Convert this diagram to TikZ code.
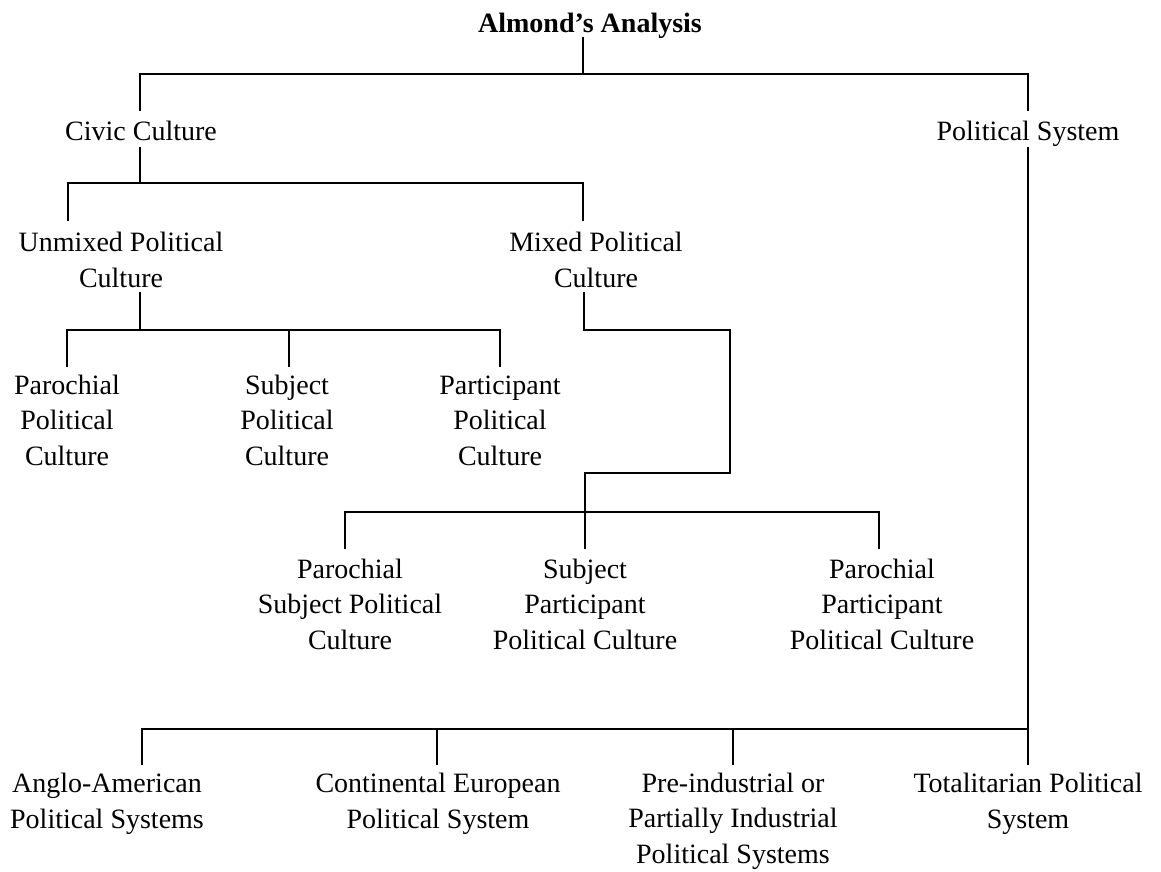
\documentclass[tikz,border=0pt]{standalone}
\usepackage{fontspec}
\setmainfont{Liberation Serif}
\begin{document}
\begin{tikzpicture}[x=1pt,y=-1pt,
  lbl/.style={inner sep=0pt, align=center, anchor=base,
              font=\fontsize{28}{35.5}\selectfont},
  link/.style={line width=1.6pt, line cap=rect, line join=miter}]
\useasboundingbox[fill=white] (0,0) rectangle (1161,871);

% ---- labels (base anchor = baseline of the last line) ----
\node[lbl, font=\fontsize{28}{35.5}\selectfont\bfseries] (title) at (590,32) {Almond’s Analysis};
\node[lbl] (civic)   at (141,140)  {Civic Culture};
\node[lbl] (polsys)  at (1028,140) {Political System};
\node[lbl] (unmixed) at (121,287)  {Unmixed Political\\Culture};
\node[lbl] (mixed)   at (596,287)  {Mixed Political\\Culture};
\node[lbl] (paro)    at (67,465)   {Parochial\\Political\\Culture};
\node[lbl] (subj)    at (287,465)  {Subject\\Political\\Culture};
\node[lbl] (part)    at (500,465)  {Participant\\Political\\Culture};
\node[lbl] (psp)     at (350,649)  {Parochial\\Subject Political\\Culture};
\node[lbl] (spp)     at (585,649)  {Subject\\Participant\\Political Culture};
\node[lbl] (ppp)     at (882,649)  {Parochial\\Participant\\Political Culture};
\node[lbl] (anglo)   at (107,828)  {Anglo-American\\Political Systems};
\node[lbl] (cont)    at (438,828)  {Continental European\\Political System};
\node[lbl] (pre)     at (733,863)  {Pre-industrial or\\Partially Industrial\\Political Systems};
\node[lbl] (tot)     at (1028,828) {Totalitarian Political\\System};

% ---- junction and stub points ----
\coordinate (titleOut) at (583,38);
\coordinate (hubA)     at (583,74);
\coordinate (civicIn)  at (140,110);
\coordinate (polIn)    at (1028,110);
\coordinate (civicOut) at (140,148);
\coordinate (hubB)     at (140,183);
\coordinate (unmixIn)  at (68,220);
\coordinate (mixIn)    at (583,220);
\coordinate (unmixOut) at (140,293);
\coordinate (hubC)     at (140,330);
\coordinate (paroIn)   at (67,366);
\coordinate (subjIn)   at (289,366);
\coordinate (partIn)   at (500,366);
\coordinate (mixOut)   at (584,293);
\coordinate (bendA)    at (730,330);
\coordinate (bendB)    at (730,473);
\coordinate (hubD)     at (585,512);
\coordinate (pspIn)    at (345,548);
\coordinate (sppIn)    at (585,548);
\coordinate (pppIn)    at (879,548);
\coordinate (polOut)   at (1028,148);
\coordinate (hubE)     at (1028,729);
\coordinate (angloIn)  at (142,764);
\coordinate (contIn)   at (437,764);
\coordinate (preIn)    at (733,764);
\coordinate (totIn)    at (1028,764);

% ---- connectors ----
\draw[link] (titleOut) -- (hubA);
\draw[link] (civicIn) |- (hubA) -| (polIn);
\draw[link] (civicOut) -- (hubB);
\draw[link] (unmixIn) |- (hubB) -| (mixIn);
\draw[link] (unmixOut) -- (hubC);
\draw[link] (paroIn) |- (hubC) -| (partIn);
\draw[link] (subjIn) -- (subjIn |- hubC);
\draw[link] (mixOut) |- (bendA) -- (bendB) -| (sppIn);
\draw[link] (pspIn) |- (hubD) -| (pppIn);
\draw[link] (polOut) -- (totIn);
\draw[link] (angloIn) |- (hubE);
\draw[link] (contIn) -- (contIn |- hubE);
\draw[link] (preIn) -- (preIn |- hubE);
\end{tikzpicture}
\end{document}
